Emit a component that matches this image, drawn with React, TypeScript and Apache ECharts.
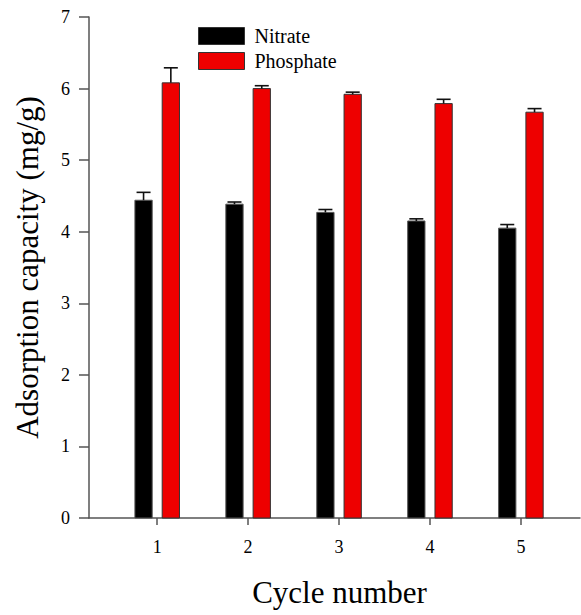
import React, { useEffect, useRef } from "react";
import * as echarts from "echarts";

const cycles = [1, 2, 3, 4, 5];
const nitrate = [4.44, 4.385, 4.27, 4.15, 4.05];
const nitrateErr = [0.11, 0.03, 0.04, 0.03, 0.05];
const phosphate = [6.08, 6.0, 5.92, 5.79, 5.67];
const phosphateErr = [0.21, 0.04, 0.03, 0.06, 0.05];
const yTicks = [0, 1, 2, 3, 4, 5, 6, 7];

const FONT = "Liberation Serif";
const BAR_W = 0.19;
const OFFSET = 0.15;
const CAP_PX = 14;

function makeSeries(name: string, values: number[], errs: number[], offset: number, color: string, border: string) {
  return {
    name,
    type: "custom",
    itemStyle: { color, borderColor: border, borderWidth: 1 },
    data: cycles.map((c, i) => [c, values[i], errs[i]]),
    renderItem: (params: any, api: any) => {
      const x = api.value(0) + offset;
      const v = api.value(1);
      const e = api.value(2);
      const p0 = api.coord([x - BAR_W / 2, 0]);
      const p1 = api.coord([x + BAR_W / 2, v]);
      const top = api.coord([x, v]);
      const et = api.coord([x, v + e]);
      return {
        type: "group",
        children: [
          {
            type: "rect",
            shape: { x: p0[0], y: p1[1], width: p1[0] - p0[0], height: p0[1] - p1[1] },
            style: { fill: color, stroke: border, lineWidth: 1 },
          },
          {
            type: "line",
            shape: { x1: top[0], y1: top[1], x2: et[0], y2: et[1] },
            style: { stroke: "#111", lineWidth: 1.6 },
          },
          {
            type: "line",
            shape: { x1: et[0] - CAP_PX / 2, y1: et[1], x2: et[0] + CAP_PX / 2, y2: et[1] },
            style: { stroke: "#111", lineWidth: 1.6 },
          },
        ],
      };
    },
  };
}

export default function App() {
  const ref = useRef<HTMLDivElement>(null);
  useEffect(() => {
    if (!ref.current) return;
    const chart = echarts.init(ref.current, null, { renderer: "svg" });
    chart.setOption({
      animation: false,
      backgroundColor: "#fff",
      textStyle: { fontFamily: FONT },
      grid: { left: 89, top: 17, right: 1, bottom: 97, containLabel: false, outerBoundsMode: "none" },
      legend: {
        orient: "vertical",
        left: 198,
        top: 26,
        padding: 0,
        itemWidth: 46,
        itemHeight: 17,
        itemGap: 5,
        icon: "rect",
        itemStyle: { borderColor: "#333", borderWidth: 1 },
        textStyle: { fontFamily: FONT, fontSize: 20, color: "#000", padding: [0, 0, 0, 5] },
        data: ["Nitrate", "Phosphate"],
      },
      xAxis: {
        type: "value",
        min: 0.25,
        max: 5.65,
        name: "Cycle number",
        nameLocation: "middle",
        nameGap: 59,
        nameTextStyle: { fontFamily: FONT, fontSize: 31, color: "#000", padding: [0, 0, 0, 10] },
        splitLine: { show: false },
        axisLine: { show: true, lineStyle: { color: "#555", width: 1.5 } },
        axisTick: { show: true, length: 7, customValues: cycles, lineStyle: { color: "#555", width: 1.5 } },
        axisLabel: {
          customValues: cycles,
          margin: 20,
          fontFamily: FONT,
          fontSize: 18,
          color: "#000",
        },
      },
      yAxis: {
        type: "value",
        min: 0,
        max: 7,
        interval: 1,
        name: "Adsorption capacity (mg/g)",
        nameLocation: "middle",
        nameGap: 46,
        nameTextStyle: { fontFamily: FONT, fontSize: 31, color: "#000" },
        splitLine: { show: false },
        axisLine: { show: true, lineStyle: { color: "#555", width: 1.5 } },
        axisTick: { show: true, length: 10, lineStyle: { color: "#555", width: 1.5 } },
        axisLabel: {
          margin: 19,
          fontFamily: FONT,
          fontSize: 18,
          color: "#000",
          formatter: (v: number) => (yTicks.includes(v) ? String(v) : ""),
        },
      },
      series: [
        makeSeries("Nitrate", nitrate, nitrateErr, -OFFSET, "#000000", "#555"),
        makeSeries("Phosphate", phosphate, phosphateErr, OFFSET, "#EE0000", "#333"),
      ],
    });
    return () => chart.dispose();
  }, []);
  return <div ref={ref} style={{ width: 581, height: 615, position: "absolute", left: 0, top: 0 }} />;
}
